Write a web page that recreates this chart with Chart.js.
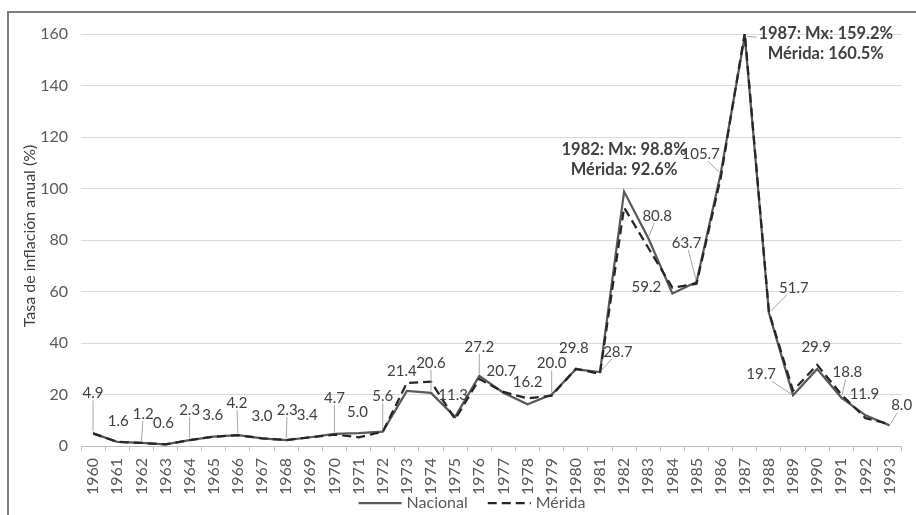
<!DOCTYPE html>
<html><head><meta charset="utf-8">
<script src="https://cdn.jsdelivr.net/npm/chart.js@4.4.0/dist/chart.umd.min.js"></script>
<style>html,body{margin:0;padding:0;background:#fff;}#wrap{position:relative;width:916px;height:515px;}canvas{display:block;}</style>
</head><body><div id="wrap"><canvas id="c" width="916" height="515"></canvas></div>
<script>
// ---- data ----
const years = ['1960','1961','1962','1963','1964','1965','1966','1967','1968','1969','1970','1971','1972','1973','1974','1975','1976','1977','1978','1979','1980','1981','1982','1983','1984','1985','1986','1987','1988','1989','1990','1991','1992','1993'];
const nacional = [4.9,1.6,1.2,0.6,2.3,3.6,4.2,3.0,2.3,3.4,4.7,5.0,5.6,21.4,20.6,11.3,27.2,20.7,16.2,20.0,29.8,28.7,98.8,80.8,59.2,63.7,105.7,159.2,51.7,19.7,29.9,18.8,11.9,8.0];
const merida   = [4.9,1.6,1.2,0.6,2.3,3.6,4.2,3.0,2.3,3.4,4.4,3.4,5.5,24.5,25.0,10.4,26.0,21.0,18.5,19.5,30.0,28.0,92.6,77.0,61.5,63.0,104.0,160.5,52.0,21.5,31.5,20.0,10.8,8.5];
const yTickValues = [0,20,40,60,80,100,120,140,160];
const seriesNames = ['Nacional','Mérida'];
const yTitle = 'Tasa de inflación anual (%)';
const highlightYears = ['1982','1987'];
// label placement relative to the point: [dx, dy, leaderLine]
const labelPlacement = [[0,-40,1],[1,-21,0],[2,-29,1],[-2,-21,0],[0,-30,1],[-1,-22,0],[-1,-32,1],[0,-22,0],[1,-30,1],[-3,-22,0],[0,-36,1],[-1,-21,0],[0,-35,1],[-5,-20,0],[0,-30,1],[-2,-22,0],[0,-29,1],[-2,-22,0],[0,-22,0],[0,-31,1],[-2,-21,0],[18,-20,1],[0,-32,0],[9,-22,1],[-26,-6,0],[-10,-39,1],[-20,-20,1],[81,8,1],[25,-25,1],[-32,-21,1],[-1,-22,0],[6,-25,1],[-1,-21,0],[12,-20,1]];

const FONT = 'Lato';

const labelPlugin = {
  id: 'custom',
  beforeDraw(chart) {
    const ctx = chart.ctx;
    ctx.save(); ctx.fillStyle = '#fff'; ctx.fillRect(0,0,chart.width,chart.height); ctx.restore();
  },
  afterDatasetsDraw(chart) {
    const ctx = chart.ctx;
    const xs = chart.scales.x, ys = chart.scales.y;
    ctx.save();
    years.forEach((yr, i) => {
      const px = xs.getPixelForValue(i), py = ys.getPixelForValue(nacional[i]);
      const [dx, dy, leader] = labelPlacement[i];
      const cx = px + dx, cy = py + dy;
      let lines, bold = false;
      if (highlightYears.includes(yr)) {
        lines = [yr + ': Mx: ' + nacional[i].toFixed(1) + '%', 'Mérida: ' + merida[i].toFixed(1) + '%'];
        bold = true;
      } else {
        lines = [nacional[i].toFixed(1)];
      }
      ctx.font = (bold ? 'bold 16.5px ' : '15px ') + FONT;
      const lh = bold ? 20 : 16;
      const w = Math.max(...lines.map(l => ctx.measureText(l).width));
      const h = lh * lines.length;
      ctx.fillStyle = '#404040';
      ctx.textAlign = 'center'; ctx.textBaseline = 'middle';
      lines.forEach((l, k) => ctx.fillText(l, cx, cy - h/2 + lh/2 + k*lh));
      if (leader) {
        const vx = px - cx, vy = py - cy;
        const len = Math.hypot(vx, vy);
        const hw = w/2 + 2, hh = h/2 - 1;
        const t = Math.min(Math.abs(vx) > 0 ? hw/Math.abs(vx) : Infinity, Math.abs(vy) > 0 ? hh/Math.abs(vy) : Infinity);
        const sx = cx + vx*t, sy = cy + vy*t;
        const ux = vx/len, uy = vy/len;
        const ex = px - ux*2, ey = py - uy*2;
        if (Math.hypot(ex-sx, ey-sy) > 3) {
          ctx.strokeStyle = '#a6a6a6'; ctx.lineWidth = 1;
          ctx.beginPath(); ctx.moveTo(sx, sy); ctx.lineTo(ex, ey); ctx.stroke();
        }
      }
    });
    ctx.restore();
  },
  afterDraw(chart) {
    const ctx = chart.ctx;
    const ca = chart.chartArea;
    ctx.save();
    // frame
    ctx.strokeStyle = '#7f7f7f'; ctx.lineWidth = 2;
    ctx.beginPath(); ctx.moveTo(8, 515); ctx.lineTo(8, 12); ctx.lineTo(916, 12); ctx.stroke();
    // y title
    ctx.translate(30, (ca.top + ca.bottom)/2 - 4);
    ctx.rotate(-Math.PI/2);
    ctx.font = '16px ' + FONT; ctx.fillStyle = '#404040';
    ctx.textAlign = 'center'; ctx.textBaseline = 'middle';
    ctx.fillText(yTitle, 0, 0);
    ctx.restore();
    // legend
    ctx.save();
    ctx.font = '16px ' + FONT;
    const ly = 503, lineLen = 43, gap = 5, between = 20;
    const w0 = ctx.measureText(seriesNames[0]).width, w1 = ctx.measureText(seriesNames[1]).width;
    const total = lineLen + gap + w0 + between + lineLen + gap + w1;
    let x = 472 - total/2;
    const ds = chart.data.datasets;
    [0,1].forEach(k => {
      const d = ds.find(s => s.label === seriesNames[k]);
      ctx.strokeStyle = d.borderColor; ctx.lineWidth = d.borderWidth;
      ctx.setLineDash(d.borderDash || []);
      ctx.beginPath(); ctx.moveTo(x, ly); ctx.lineTo(x + lineLen, ly); ctx.stroke();
      ctx.setLineDash([]);
      x += lineLen + gap;
      ctx.fillStyle = '#595959'; ctx.textAlign = 'left'; ctx.textBaseline = 'middle';
      ctx.fillText(seriesNames[k], x, ly);
      x += (k === 0 ? w0 : w1) + between;
    });
    ctx.restore();
  }
};

new Chart(document.getElementById('c'), {
  type: 'line',
  data: {
    labels: years,
    datasets: [
      { label: seriesNames[0], data: nacional, borderColor: '#595959', borderWidth: 2.25, pointRadius: 0, tension: 0, fill: false, order: 1 },
      { label: seriesNames[1], data: merida, borderColor: '#262626', borderWidth: 2.25, borderDash: [9,5], pointRadius: 0, tension: 0, fill: false, order: 0 }
    ]
  },
  options: {
    responsive: false, animation: false, devicePixelRatio: 1,
    layout: { padding: { top: 34, right: 13, left: 0, bottom: 0 } },
    plugins: { legend: { display: false }, tooltip: { enabled: false }, title: { display: false } },
    scales: {
      x: {
        type: 'category', offset: true,
        grid: { offset: true, drawOnChartArea: false, drawTicks: true, tickLength: 5, color: '#bfbfbf' },
        border: { display: true, color: '#bfbfbf', width: 1 },
        ticks: { autoSkip: false, maxRotation: 90, minRotation: 90, padding: 7, color: '#595959', font: { family: FONT, size: 16 } },
        afterFit(s) { s.height = 69; }
      },
      y: {
        min: 0, max: 160,
        afterBuildTicks(s) { s.ticks = yTickValues.map(v => ({ value: v })); },
        grid: { color: '#d9d9d9', drawTicks: false, lineWidth: 1 },
        border: { display: false },
        ticks: { padding: 13, color: '#595959', font: { family: FONT, size: 16 } },
        afterFit(s) { s.width = 81; }
      }
    }
  },
  plugins: [labelPlugin]
});
</script></body></html>
